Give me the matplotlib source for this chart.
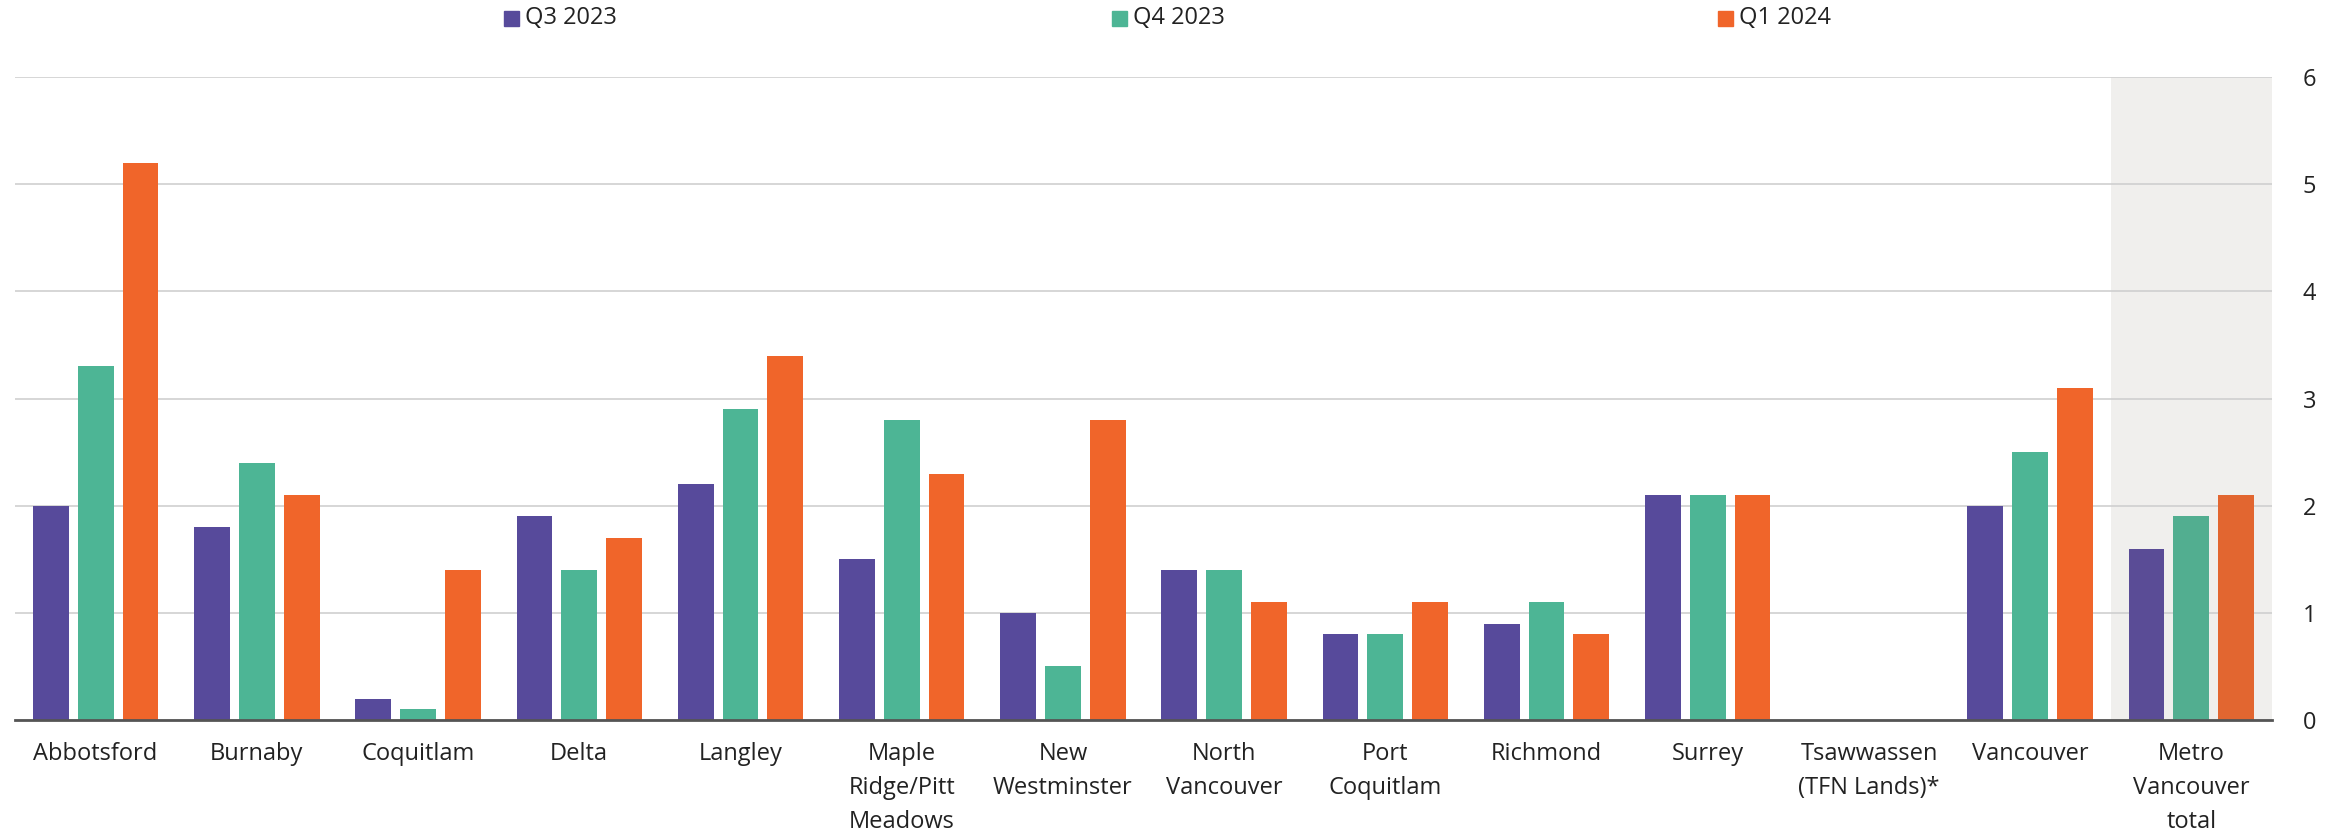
import matplotlib
matplotlib.use("Agg")
import matplotlib.pyplot as plt
from matplotlib.patches import Rectangle
import numpy as np

plt.rcParams['font.family'] = ['Open Sans', 'DejaVu Sans']

categories = ["Abbotsford", "Burnaby", "Coquitlam", "Delta", "Langley",
              "Maple\nRidge/Pitt\nMeadows", "New\nWestminster", "North\nVancouver",
              "Port\nCoquitlam", "Richmond", "Surrey", "Tsawwassen\n(TFN Lands)*",
              "Vancouver", "Metro\nVancouver\ntotal"]
series_names = ["Q3 2023", "Q4 2023", "Q1 2024"]
q3_2023 = [2.0, 1.8, 0.2, 1.9, 2.2, 1.5, 1.0, 1.4, 0.8, 0.9, 2.1, np.nan, 2.0, 1.6]
q4_2023 = [3.3, 2.4, 0.1, 1.4, 2.9, 2.8, 0.5, 1.4, 0.8, 1.1, 2.1, np.nan, 2.5, 1.9]
q1_2024 = [5.2, 2.1, 1.4, 1.7, 3.4, 2.3, 2.8, 1.1, 1.1, 0.8, 2.1, np.nan, 3.1, 2.1]
yticks = [0, 1, 2, 3, 4, 5, 6]

colors = ["#574a9b", "#4db595", "#f0652a"]
total_colors = ["#5a4c96", "#52ae90", "#e26630"]

fig = plt.figure(figsize=(23.41, 8.35), dpi=100)
ax = fig.add_axes([15/2341, 1-720/835, (2272-15)/2341, (720-77)/835])

x = np.arange(len(categories))
width = 0.222
offset = 0.278
n = len(categories)
ax.axvspan(n - 1.5, n - 0.5, color="#f0efed", zorder=0, lw=0)
for i, (vals, c, tc) in enumerate(zip([q3_2023, q4_2023, q1_2024], colors, total_colors)):
    cols = [c] * (n - 1) + [tc]
    ax.bar(x + (i - 1) * offset, vals, width=width, color=cols, zorder=3, lw=0)

ax.set_xlim(-0.5, n - 0.5)
ax.set_ylim(0, 6)
ax.set_yticks(yticks)
ax.yaxis.tick_right()
ax.grid(axis="y", color="#cfcfcf", lw=1.2, zorder=1)
ax.set_axisbelow(True)
for s in ["top", "left", "right"]:
    ax.spines[s].set_visible(False)
ax.spines["bottom"].set_color("#555555")
ax.spines["bottom"].set_linewidth(2)
ax.spines["bottom"].set_zorder(4)
ax.tick_params(axis="y", length=0, pad=22, labelsize=17, labelcolor="#222222")
ax.tick_params(axis="x", length=0, pad=16, labelsize=17, labelcolor="#222222")
ax.set_xticks(x)
ax.set_xticklabels(categories, linespacing=1.55, va="top")

legend_x = [504, 1112, 1718]
for lx, name, c in zip(legend_x, series_names, colors):
    fig.patches.append(Rectangle((lx/2341, 1-26/835), 15/2341, 15/835,
                                 transform=fig.transFigure, color=c))
    fig.text((lx+21)/2341, 1-18.5/835, name, fontsize=17, va="center", ha="left",
             color="#222222")

fig.savefig("out.png", dpi=100)
